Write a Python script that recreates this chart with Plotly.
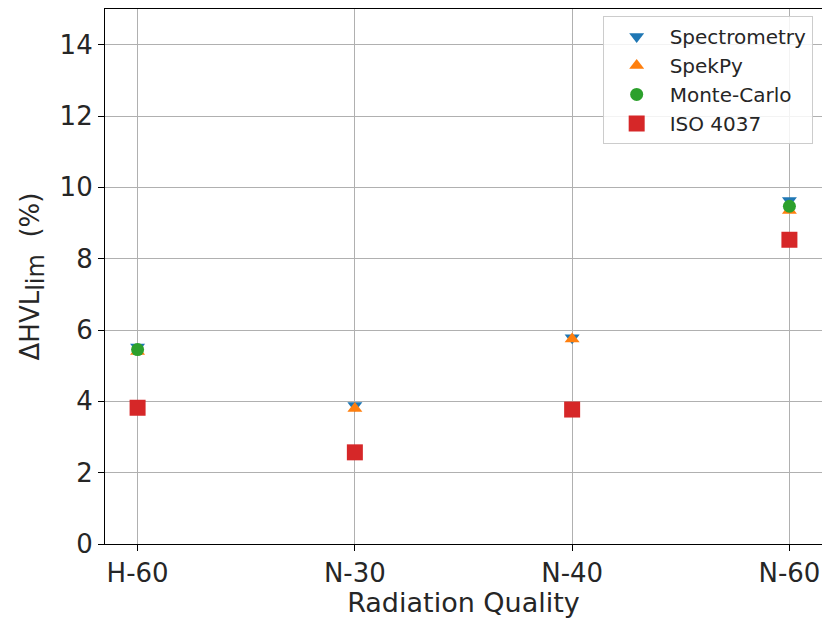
import plotly.graph_objects as go

categories = ["H-60", "N-30", "N-40", "N-60"]
spectrometry = [5.52, 3.88, 5.78, 9.63]
spekpy = [5.40, 3.80, 5.75, 9.35]
monte_carlo = [5.45, None, None, 9.47]
iso4037 = [3.82, 2.57, 3.77, 8.53]

xi = list(range(len(categories)))

fig = go.Figure()
series = [
    ("Spectrometry", spectrometry, "triangle-down", "#1f77b4", 13),
    ("SpekPy", spekpy, "triangle-up", "#ff7f0e", 13),
    ("Monte-Carlo", monte_carlo, "circle", "#2ca02c", 13),
    ("ISO 4037", iso4037, "square", "#d62728", 16),
]
for name, vals, sym, col, sz in series:
    fig.add_trace(go.Scatter(
        x=xi, y=vals, mode="markers", name=name,
        marker=dict(symbol=sym, color=col, size=sz, line=dict(width=0)),
    ))

axis_common = dict(
    showline=True, linecolor="black", linewidth=1.2, mirror=True,
    ticks="outside", ticklen=6, tickwidth=1.2, tickcolor="black",
    showgrid=True, gridcolor="#b0b0b0", gridwidth=1.3,
    zeroline=False,
    tickfont=dict(family="DejaVu Sans", size=26, color="#262626"),
)

fig.update_xaxes(
    range=[-0.15, 3.15], tickmode="array", tickvals=xi, ticktext=categories,
    title=dict(text="Radiation Quality", font=dict(family="DejaVu Sans", size=27, color="#262626"), standoff=4),
    **axis_common,
)
fig.update_yaxes(
    range=[0, 15], tickmode="array", tickvals=[0, 2, 4, 6, 8, 10, 12, 14],
    title=dict(text="ΔHVL<sub><span style='font-size:24px'>lim</span></sub>  (%)",
               font=dict(family="DejaVu Sans", size=26, color="#262626"), standoff=12),
    **axis_common,
)

fig.update_layout(
    width=822, height=618,
    margin=dict(l=105, r=0, t=9, b=74),
    plot_bgcolor="white", paper_bgcolor="white",
    font=dict(family="DejaVu Sans"),
    legend=dict(
        x=0.987, y=0.987, xanchor="right", yanchor="top",
        bgcolor="rgba(255,255,255,0.85)", bordercolor="#cccccc", borderwidth=1,
        font=dict(family="DejaVu Sans", size=20, color="#262626"),
        itemwidth=56, tracegroupgap=0,
    ),
    showlegend=True,
)

fig.write_html("out.html")
